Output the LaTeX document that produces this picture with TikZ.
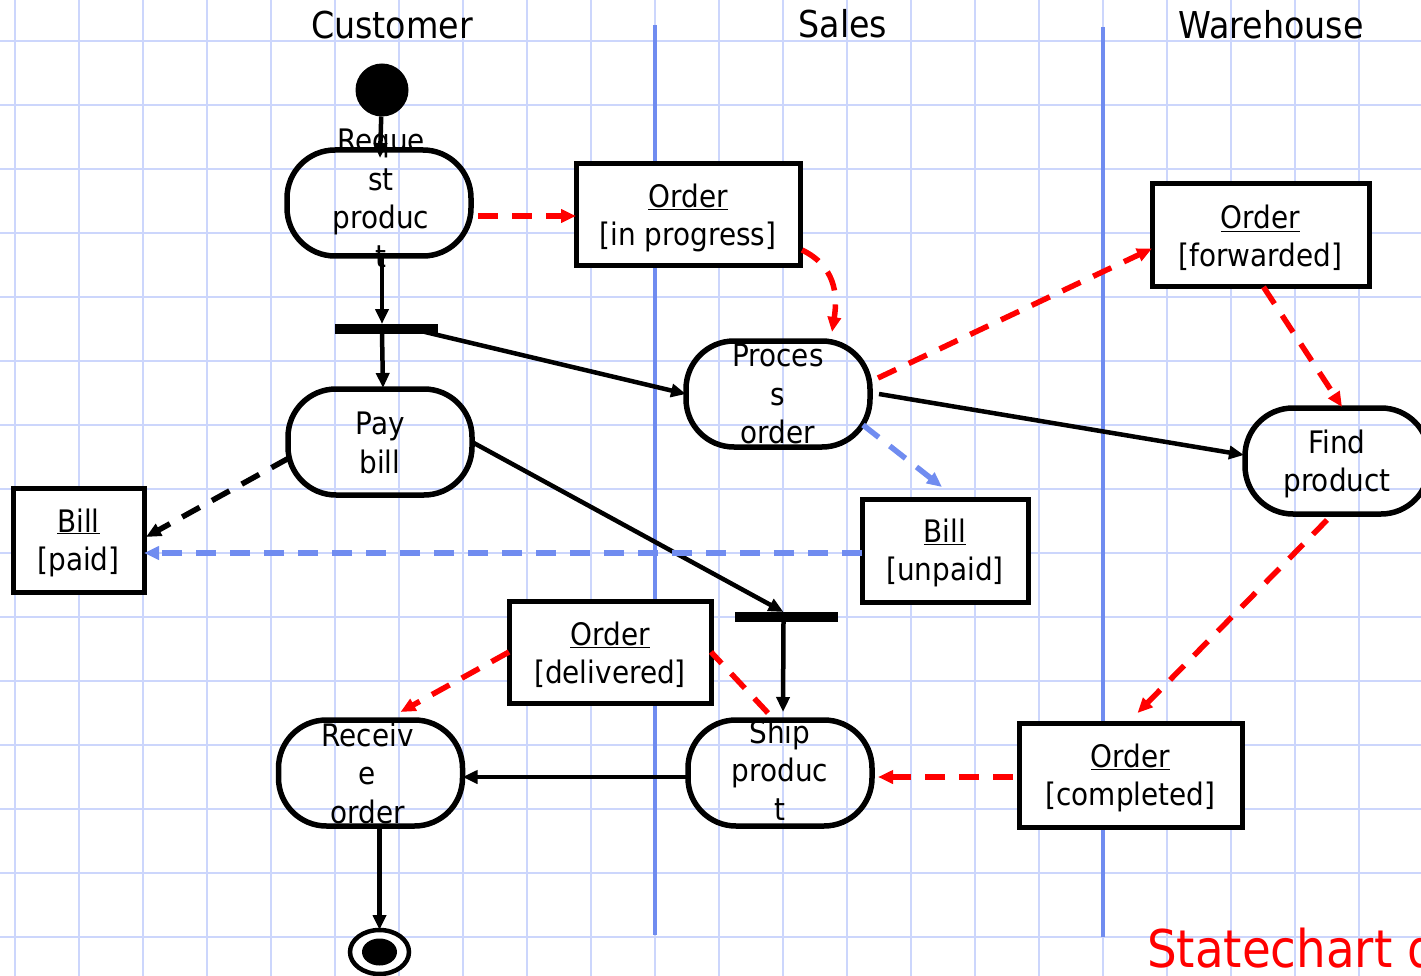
\documentclass[tikz,border=0pt]{standalone}
\usepackage{fontspec}
\setmainfont{DejaVu Sans}[FakeStretch=0.9]
\usetikzlibrary{arrows.meta,calc,shapes.geometric}
\definecolor{gridblue}{RGB}{204,214,252}
\definecolor{laneblue}{RGB}{112,140,240}
\definecolor{flowred}{RGB}{255,0,0}
% first-line strut that lowers the two-line object labels a little
\newcommand{\objtop}{\rule{0pt}{29pt}}
\begin{document}
\begin{tikzpicture}[x=1pt,y=-1pt,
  every node/.style={inner sep=0pt, outer sep=0pt},
  activity/.style={draw, line width=5.5pt, rounded corners=48pt,
    minimum width=184pt, minimum height=106pt},
  acttext/.style={align=center, font=\fontsize{31}{38.5}\selectfont},
  objbox/.style={draw, fill=white, line width=5pt, align=center,
    font=\fontsize{31}{38}\selectfont},
  forkbar/.style={fill=black, minimum width=103pt, minimum height=10pt},
  headed/.style={-{Triangle[length=15pt,width=13pt]}},
  ctrlflow/.style={headed, line width=4.5pt},
  dashflow/.style={line width=5.5pt, dash pattern=on 20pt off 14pt},
  objflow/.style={headed, dashflow},
  swimlane/.style={laneblue, line width=4.5pt},
  lanetitle/.style={anchor=base, font=\fontsize{37}{44}\selectfont},
]
\useasboundingbox (0,0) rectangle (1421,976);
\clip (0,0) rectangle (1421,976);
\fill[white] (0,0) rectangle (1421,976);

% squared paper
\foreach \gx in {15,79,...,1423}
  \draw[gridblue, line width=2pt] (\gx,0) -- (\gx,976);
\foreach \gy in {41,105,...,937}
  \draw[gridblue, line width=2pt] (0,\gy) -- (1421,\gy);

% swimlane separators and titles
\draw[swimlane] (655,25) -- (655,935);
\draw[swimlane] (1103,27) -- (1103,937);
\node[lanetitle] (cust-h) at (392,39) {Customer};
\node[lanetitle] (sales-h) at (843,38) {Sales};
\node[lanetitle] (ware-h) at (1271,39) {Warehouse};

% initial and final states
\node[circle, fill=black, minimum size=53pt] (start) at (382,90) {};
\node[ellipse, draw, fill=white, line width=4.5pt, minimum width=59pt, minimum height=44pt] (final) at (379.5,952) {};
\node[ellipse, fill=black, minimum width=35pt, minimum height=27pt] (final-dot) at (final) {};

% activities
\node[activity] (req)  at (379,203) {};
\node[activity] (pay)  at (380,442) {};
\node[activity] (proc) at (778,394) {};
\node[activity] (find) at (1337,461) {};
\node[activity] (ship) at (780,773) {};
\node[activity] (recv) at (370.5,773) {};
\node[acttext] (req-t)  at ($(req)+(2,-5)$)  {Reque\\st\\produc\\t};
\node[acttext] (pay-t)  at ($(pay)+(0,1)$)   {Pay\\bill};
\node[acttext] (proc-t) at ($(proc)+(0,0)$)  {Proces\\s\\order};
\node[acttext] (find-t) at ($(find)+(0,3)$)  {Find\\product};
\node[acttext] (ship-t) at ($(ship)+(0,-3)$) {Ship\\produc\\t};
\node[acttext] (recv-t) at ($(recv)+(-3,0)$) {Receiv\\e\\order};

% fork bars
\node[forkbar] (fork1) at (386,329) {};
\node[forkbar] (fork2) at (786.5,617) {};

% object states
\node[objbox, minimum width=224pt, minimum height=102pt] (inprog) at (688,215) {\objtop\underline{Order}\\{[in progress]}};
\node[objbox, minimum width=217pt, minimum height=103pt] (fwd) at (1260.5,235.5) {\objtop\underline{Order}\\{[forwarded]}};
\node[objbox, minimum width=131pt, minimum height=104pt] (paid) at (78.5,540) {\objtop\underline{Bill}\\{[paid]}};
\node[objbox, minimum width=166pt, minimum height=103pt] (unp) at (945,550.5) {\objtop\underline{Bill}\\{[unpaid]}};
\node[objbox, minimum width=202pt, minimum height=102pt] (del) at (610,652) {\objtop\underline{Order}\\{[delivered]}};
\node[objbox, minimum width=223pt, minimum height=104pt] (comp) at (1130.5,775) {\objtop\underline{Order}\\{[completed]}};

% control flow
\draw[ctrlflow] (start) -- ($(req.north)+(1,8)$);
\draw[ctrlflow] ($(req.south)+(3,0)$) -- ($(fork1.north)+(-4,0)$);
\draw[ctrlflow] ($(fork1.south)+(-4,0)$) -- ($(pay.north)+(3,-1)$);
\draw[ctrlflow] ($(fork1)+(39,3)$) -- (proc.west);
\draw[ctrlflow] ($(proc.east)+(9,0)$) -- ($(find.west)+(-1,-6)$);
\draw[ctrlflow] (pay.east) -- ($(fork2.north)+(-3,0)$);
\draw[ctrlflow] ($(fork2.south)+(-3,0)$) -- ($(ship.north)+(3,-8)$);
\draw[ctrlflow] ($(ship.west)+(0,4)$) -- ($(recv.east)+(0,4)$);
\draw[ctrlflow] ($(recv.south)+(9,0)$) -- (final.north);

% object flow
\draw[objflow, flowred] ($(req.east)+(7,13)$) -- ($(inprog.west)+(0,1)$);
\draw[objflow, flowred] ($(inprog.south east)+(2,-16)$)
  .. controls ($(inprog.south east)+(35,0)$) and ($(inprog.south east)+(38,28)$)
  .. ($(proc.north)+(54,-9)$);
\draw[objflow, flowred] ($(proc.east)+(8,-16)$) -- ($(fwd.west)+(0,13)$);
\draw[objflow, flowred] ($(fwd.south)+(3,0)$) -- ($(find.north)+(5,-1)$);
\draw[objflow, flowred] ($(find.south)+(-10,6)$) -- ($(comp.north)+(7,-10)$);
\draw[objflow, flowred] ($(comp.west)+(-6,2)$) -- ($(ship.east)+(6,4)$);
\draw[dashflow, flowred] ($(ship.north)+(-12,-7)$) -- (del.east);
\draw[objflow, flowred] (del.west) -- ($(recv.north)+(30,-8)$);
\draw[objflow, laneblue] ($(proc)+(85,31)$) -- ($(unp.north)+(-3,-12)$);
\draw[objflow, laneblue] ($(unp.west)+(0,2.5)$) -- ($(paid.east)+(0,13)$);
\draw[objflow, black] ($(pay.west)+(1,16)$) -- ($(paid.east)+(2,-3)$);

% caption
\node[anchor=base west, text=flowred, font=\fontsize{52}{60}\selectfont] (caption) at (1147,967) {Statechart d};
\end{tikzpicture}
\end{document}
